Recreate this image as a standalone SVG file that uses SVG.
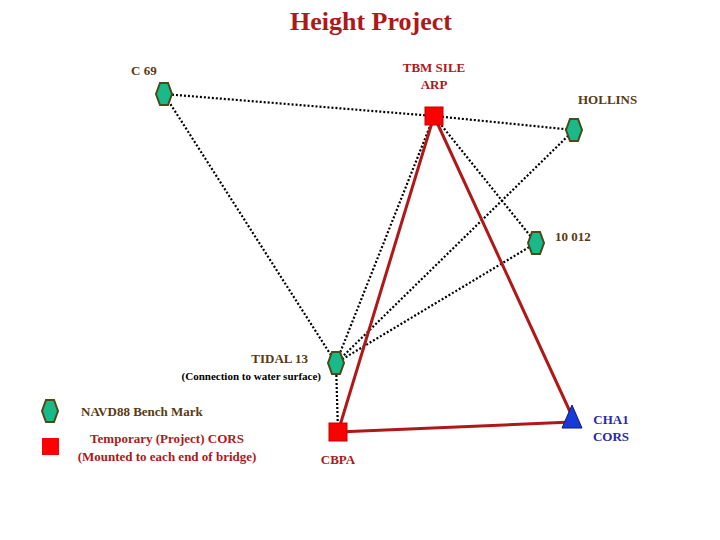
<svg xmlns="http://www.w3.org/2000/svg" width="720" height="540" viewBox="0 0 720 540">
<defs>
<style>
text{font-family:"Liberation Serif",serif;font-weight:bold}
.t{fill:#5a3a12;font-size:13px}
.r{fill:#b01818;font-size:13px}
.hx{fill:#1ab98a;stroke:#4a4a1a;stroke-width:2}
.sq{fill:#ff0000;stroke:#c00000;stroke-width:1}
.dot{stroke:#000;stroke-width:2.2;stroke-dasharray:2 2;fill:none}
.red{stroke:#b01818;stroke-width:3;fill:none}
</style>
<polygon id="hex" points="-8,0 -4,-11 4,-11 8,0 4,11 -4,11"/>
</defs>
<rect width="720" height="540" fill="#fff"/>
<text x="371" y="30" text-anchor="middle" style="fill:#b01818;font-size:26px">Height Project</text>
<g id="connectors">
<line class="dot" x1="164" y1="94" x2="434" y2="116"/>
<line class="dot" x1="434" y1="116" x2="574" y2="130" stroke-dasharray="5 2"/>
<line class="dot" x1="164" y1="94" x2="336" y2="363"/>
<line class="dot" x1="434" y1="116" x2="336" y2="363"/>
<line class="dot" x1="434" y1="116" x2="536" y2="243"/>
<line class="dot" x1="574" y1="130" x2="336" y2="363"/>
<line class="dot" x1="536" y1="243" x2="336" y2="363"/>
<line class="dot" x1="336" y1="363" x2="338" y2="432"/>
<line class="red" x1="434" y1="116" x2="338" y2="432"/>
<line class="red" x1="434" y1="116" x2="572" y2="416"/>
<line class="red" x1="338" y1="432" x2="572" y2="422"/>
</g>
<g id="c69"><use href="#hex" class="hx" x="164" y="94"/><text class="t" x="131" y="75">C 69</text></g>
<g id="tbm"><rect class="sq" x="425" y="107" width="18" height="18"/><text class="r" x="434" y="72" text-anchor="middle">TBM SILE</text><text class="r" x="434" y="89" text-anchor="middle">ARP</text></g>
<g id="hollins"><use href="#hex" class="hx" x="574" y="130"/><text class="t" x="578" y="104">HOLLINS</text></g>
<g id="n10012"><use href="#hex" class="hx" x="536" y="243"/><text class="t" x="555" y="241">10 012</text></g>
<g id="tidal"><use href="#hex" class="hx" x="336" y="363"/><text class="t" x="308" y="363" text-anchor="end">TIDAL 13</text><text x="321" y="380" text-anchor="end" style="fill:#000;font-size:11px">(Connection to water surface)</text></g>
<g id="cbpa"><rect class="sq" x="329" y="423" width="18" height="18"/><text class="r" x="338" y="464" text-anchor="middle">CBPA</text></g>
<g id="cha1"><polygon points="572,405 582,428 562,428" fill="#1a3ad8" stroke="#0a1a80"/><text x="611" y="424" text-anchor="middle" style="fill:#2a2aa0;font-size:13px">CHA1</text><text x="611" y="441" text-anchor="middle" style="fill:#2a2aa0;font-size:13px">CORS</text></g>
<g id="legend">
<use href="#hex" class="hx" x="50" y="411"/>
<text class="t" x="81" y="416">NAVD88 Bench Mark</text>
<rect x="42" y="438" width="17" height="17" fill="#ff0000"/>
<text class="r" x="167" y="443" text-anchor="middle">Temporary (Project) CORS</text>
<text class="r" x="167" y="461" text-anchor="middle">(Mounted to each end of bridge)</text>
</g>
</svg>
